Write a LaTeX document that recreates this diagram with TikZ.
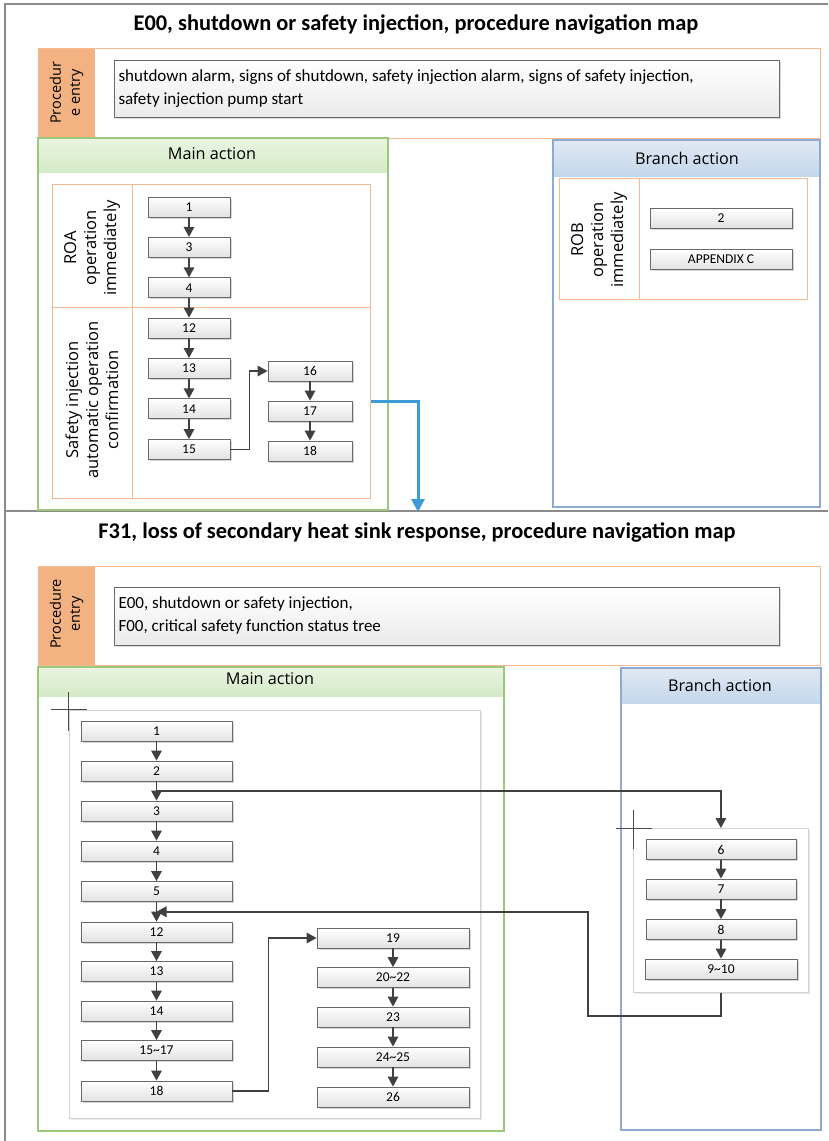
\documentclass[tikz,border=0pt]{standalone}
\usepackage{fontspec}
\setmainfont{Carlito}
\newfontfamily\hdrfont{Open Sans}
\usetikzlibrary{arrows.meta,shadows,calc}
\definecolor{framegray}{RGB}{140,140,140}
\definecolor{orangeline}{RGB}{244,185,142}
\definecolor{orangefill}{RGB}{242,178,130}
\definecolor{greenline}{RGB}{155,200,122}
\definecolor{greentop}{RGB}{234,245,226}
\definecolor{greenbot}{RGB}{212,234,198}
\definecolor{blueline}{RGB}{142,170,210}
\definecolor{bluetop}{RGB}{224,233,244}
\definecolor{bluebot}{RGB}{196,215,235}
\definecolor{boxline}{RGB}{105,105,105}
\definecolor{boxbot}{RGB}{226,226,226}
\definecolor{arrowc}{RGB}{64,64,64}
\definecolor{bluearrow}{RGB}{60,154,214}
\definecolor{contline}{RGB}{210,210,210}
\begin{document}
\begin{tikzpicture}[x=1pt,y=-1pt,
  stepbox/.style={draw=boxline, line width=0.8pt, top color=white, bottom color=boxbot,
    minimum height=20pt, inner sep=0pt, font=\fontsize{13.5}{15}\selectfont,
    drop shadow={shadow xshift=1.5pt,shadow yshift=-1.5pt,opacity=0.25,fill=black!60}},
  entrybox/.style={draw=boxline, line width=0.8pt, top color=white, bottom color=boxbot!70,
    anchor=north west, inner sep=0pt,
    drop shadow={shadow xshift=1.5pt,shadow yshift=-1.5pt,opacity=0.25,fill=black!60}},
  conn/.style={draw=arrowc, line width=1.6pt, -{Triangle[length=10pt,width=10.5pt]}},
  lanelabel/.style={rotate=90, align=center, font=\hdrfont\fontsize{16.5}{20}\selectfont},
  entrylabel/.style={rotate=90, align=center, font=\hdrfont\fontsize{14.5}{19}\selectfont},
  hdr/.style={font=\hdrfont\fontsize{16.2}{18}\selectfont},
  titletext/.style={font=\bfseries\fontsize{22.4}{26}\selectfont},
  entrytext/.style={anchor=west, align=left, font=\fontsize{17}{22.5}\selectfont},
  orangeframe/.style={draw=orangeline, line width=1pt},
  container/.style={draw=contline, line width=0.8pt, fill=white, anchor=north west, inner sep=0pt,
    drop shadow={shadow xshift=1.5pt,shadow yshift=-1.5pt,opacity=0.15,fill=black!60}},
  cross/.style={draw=black!70, line width=0.7pt}
]
\useasboundingbox (0,0) rectangle (828,1141);
\fill[white] (0,0) rectangle (828,1141);
% outer frame
\draw[framegray, line width=1.5pt] (828,4) -- (5,4) -- (5,1141);
\draw[framegray, line width=1.5pt] (5,511) -- (828,511);

%================ TOP: E00 =================
\node[titletext] (t1) at (416,25) {E00, shutdown or safety injection, procedure navigation map};
% procedure entry
\fill[orangefill] (38,48) rectangle (95,138);
\draw[orangeframe] (38,48) rectangle (820,138);
\node[entrylabel] (pe1) at (66.5,93) {Procedur\\e entry};
\node[entrybox, minimum width=665pt, minimum height=57pt] (eb1) at (114,60) {};
\node[entrytext] (et1) at (115,88.5) {shutdown alarm, signs of shutdown, safety injection alarm, signs of safety injection,\\safety injection pump start};

% main action
\shade[top color=greentop, bottom color=greenbot] (38,138) rectangle (388,172);
\draw[greenline, line width=1.2pt] (38,138) rectangle (388,510);
\node[hdr] (ma1) at (212,154) {Main action};
\node[orangeframe, anchor=north west, minimum width=318pt, minimum height=314pt, inner sep=0pt] (si1) at (52,184) {};
\draw[orangeframe] (132,184) -- (132,498);
\draw[orangeframe] (52,307) -- (370,307);
\node[lanelabel] (roa) at (92,248) {ROA\\operation\\immediately};
\node[lanelabel] (sil) at (92,400) {Safety injection\\automatic operation\\confirmation};

\node[stepbox, minimum width=82pt] (a1) at (189,207) {1};
\node[stepbox, minimum width=82pt] (a3) at (189,247.3) {3};
\node[stepbox, minimum width=82pt] (a4) at (189,287.7) {4};
\node[stepbox, minimum width=82pt] (a12) at (189,328) {12};
\node[stepbox, minimum width=82pt] (a13) at (189,368.4) {13};
\node[stepbox, minimum width=82pt] (a14) at (189,408.8) {14};
\node[stepbox, minimum width=82pt] (a15) at (189,449.5) {15};
\node[stepbox, minimum width=84pt] (a16) at (310,371) {16};
\node[stepbox, minimum width=84pt] (a17) at (310,411) {17};
\node[stepbox, minimum width=84pt] (a18) at (310,451) {18};
\draw[conn] (a1) -- (a3);
\draw[conn] (a3) -- (a4);
\draw[conn] (a4) -- (a12);
\draw[conn] (a12) -- (a13);
\draw[conn] (a13) -- (a14);
\draw[conn] (a14) -- (a15);
\draw[conn] (a15.east) -- ++(19,0) |- (a16.west);
\draw[conn] (a16) -- (a17);
\draw[conn] (a17) -- (a18);

% branch action
\shade[top color=bluetop, bottom color=bluebot] (553,140) rectangle (820,176);
\draw[blueline, line width=1.2pt] (553,140) rectangle (820,507);
\node[hdr] (bra1) at (687,158) {Branch action};
\draw[orangeframe] (559,178) rectangle (807,299);
\draw[orangeframe] (639,178) -- (639,299);
\node[lanelabel] (rob) at (599,240) {ROB\\operation\\immediately};
\node[stepbox, minimum width=142pt] (b2) at (721,218) {2};
\node[stepbox, minimum width=142pt] (bapp) at (721,259) {APPENDIX C};

% blue link to F31
\coordinate (bl0) at (si1.east |- 0,401);
\coordinate (bl1) at (418,512);
\draw[bluearrow, line width=3pt, -{Triangle[length=13pt,width=13pt]}] (bl0) -| (bl1);

%================ BOTTOM: F31 =================
\node[titletext] (t2) at (417,533) {F31, loss of secondary heat sink response, procedure navigation map};
\fill[orangefill] (38,566) rectangle (95,665);
\draw[orangeframe] (38,566) rectangle (820,665);
\node[entrylabel] (pe2) at (66.5,614) {Procedure\\entry};
\node[entrybox, minimum width=665pt, minimum height=58pt] (eb2) at (114,587) {};
\node[entrytext] (et2) at (115,615.5) {E00, shutdown or safety injection,\\F00, critical safety function status tree};

% main action
\shade[top color=greentop, bottom color=greenbot] (38,667) rectangle (504,696);
\draw[greenline, line width=1.2pt] (38,667) rectangle (504,1131);
\node[hdr] (ma2) at (270,679) {Main action};
\node[container, minimum width=411pt, minimum height=408pt] (mc) at (69,710) {};
\draw[cross] (51,709) -- (87,709);
\draw[cross] (68,692) -- (68,731);

\node[stepbox, minimum width=151pt] (m1) at (156.5,731) {1};
\node[stepbox, minimum width=151pt] (m2) at (156.5,771) {2};
\node[stepbox, minimum width=151pt] (m3) at (156.5,811) {3};
\node[stepbox, minimum width=151pt] (m4) at (156.5,851) {4};
\node[stepbox, minimum width=151pt] (m5) at (156.5,891.5) {5};
\node[stepbox, minimum width=151pt] (m12) at (156.5,932) {12};
\node[stepbox, minimum width=151pt] (m13) at (156.5,971.5) {13};
\node[stepbox, minimum width=151pt] (m14) at (156.5,1011) {14};
\node[stepbox, minimum width=151pt] (m15) at (156.5,1050.5) {15\textasciitilde17};
\node[stepbox, minimum width=151pt] (m18) at (156.5,1091) {18};
\node[stepbox, minimum width=152pt] (r19) at (393,938) {19};
\node[stepbox, minimum width=152pt] (r20) at (393,977.5) {20\textasciitilde22};
\node[stepbox, minimum width=152pt] (r23) at (393,1017) {23};
\node[stepbox, minimum width=152pt] (r24) at (393,1057) {24\textasciitilde25};
\node[stepbox, minimum width=152pt] (r26) at (393,1097) {26};

\draw[conn] (m1) -- (m2);
\draw[conn] (m2) -- (m3);
\draw[conn] (m3) -- (m4);
\draw[conn] (m4) -- (m5);
\draw[conn] (m5) -- (m12);
\draw[conn] (m12) -- (m13);
\draw[conn] (m13) -- (m14);
\draw[conn] (m14) -- (m15);
\draw[conn] (m15) -- (m18);
\draw[conn] (m18.east) -- ++(36,0) |- (r19.west);
\draw[conn] (r19) -- (r20);
\draw[conn] (r20) -- (r23);
\draw[conn] (r23) -- (r24);
\draw[conn] (r24) -- (r26);

% branch action
\shade[top color=bluetop, bottom color=bluebot] (621,668) rectangle (821,703);
\draw[blueline, line width=1.2pt] (621,668) rectangle (821,1130);
\node[hdr] (bra2) at (720,685) {Branch action};
\node[container, minimum width=175pt, minimum height=164pt] (bc) at (633,828) {};
\draw[cross] (616,828) -- (652,828);
\draw[cross] (633,810) -- (633,849);
\node[stepbox, minimum width=150pt] (c6) at (721,849.5) {6};
\node[stepbox, minimum width=150pt] (c7) at (721,889) {7};
\node[stepbox, minimum width=150pt] (c8) at (721,929.5) {8};
\node[stepbox, minimum width=152pt] (c9) at (721,969) {9\textasciitilde10};
\draw[conn] (c6) -- (c7);
\draw[conn] (c7) -- (c8);
\draw[conn] (c8) -- (c9);

% cross-lane connectors
\coordinate (j23) at ($(m2.south)!0.5!(m3.north)$);
\coordinate (j5) at ($(m5.south)!0.5!(m12.north)$);
\coordinate (rt) at (588,1016);
\draw[conn] (j23) -| (bc.north);
\draw[conn] (bc.south) |- (rt) |- (j5);
\end{tikzpicture}
\end{document}
